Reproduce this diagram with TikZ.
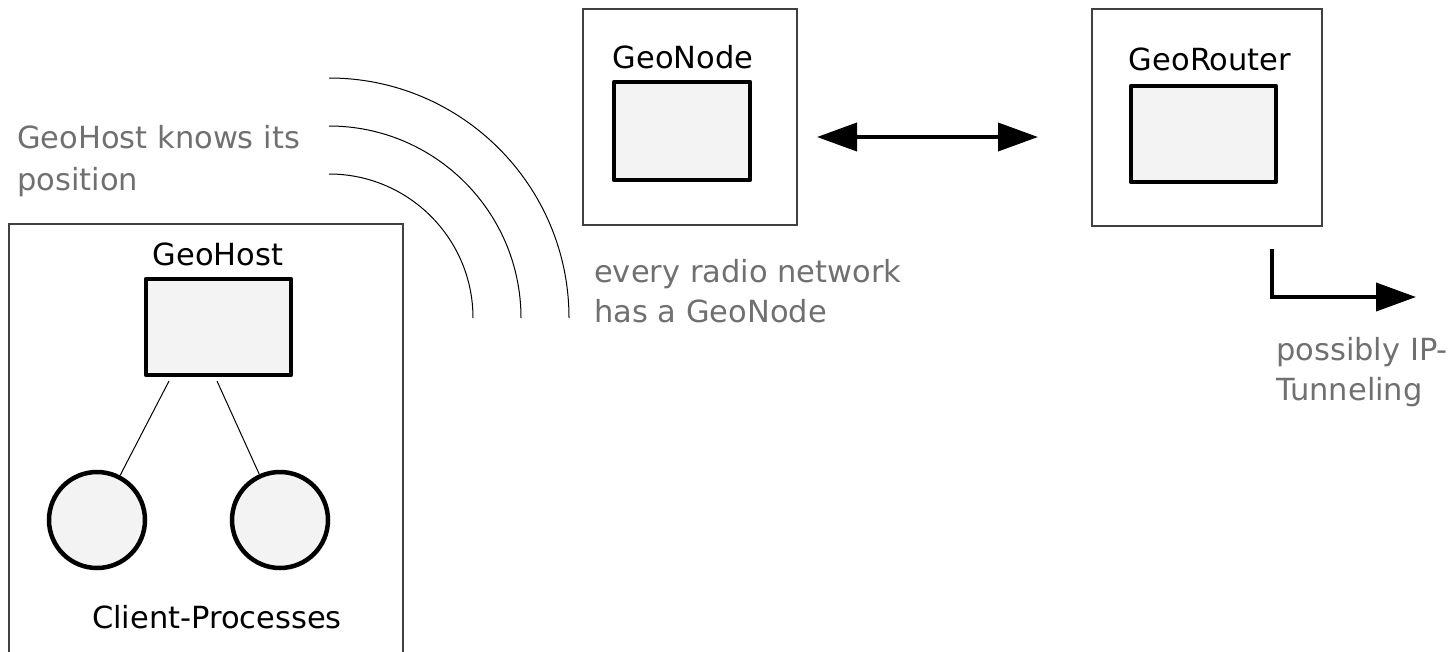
\documentclass[tikz,border=0pt]{standalone}
\usepackage{fontspec}
\setmainfont{DejaVu Sans}
\usetikzlibrary{arrows.meta}
\definecolor{boxfill}{HTML}{F3F3F3}
\definecolor{graytext}{HTML}{707070}
\tikzset{
  outerbox/.style={draw=black!75, line width=1.2pt},
  innerbox/.style={draw=black, line width=4.5pt, fill=boxfill, line join=round},
  proc/.style={circle, draw=black, line width=4.5pt, fill=boxfill, minimum size=96pt, inner sep=0pt},
  thinline/.style={draw=black, line width=1pt},
  lbl/.style={font=\fontsize{30.5}{36}\selectfont, anchor=base, inner sep=0pt},
  note/.style={font=\fontsize{30.5}{36}\selectfont, text=graytext, anchor=base west, inner sep=0pt},
  bigarrow/.style={line width=3.8pt, -{Triangle[length=40pt,width=28pt]}},
}
\begin{document}
\begin{tikzpicture}[x=1pt,y=-1pt]
\useasboundingbox (0,0) rectangle (1456,651);
% GeoHost
\draw[outerbox] (9,700) -- (9,224) -- (403,224) -- (403,700);
\node[lbl] (hostlbl) at (218,265) {GeoHost};
\node[innerbox, minimum width=145pt, minimum height=96pt, inner sep=0pt] (host) at (218.5,327) {};
\node[proc] (c1) at (97,520) {};
\node[proc] (c2) at (280,520) {};
\coordinate (h1) at (169,381);
\coordinate (h2) at (217,381);
\draw[thinline] (h1) -- (c1);
\draw[thinline] (h2) -- (c2);
\node[lbl] (cp) at (217,628) {Client-Processes};
% waves
\draw[thinline] (329,78) arc[start angle=-90, end angle=0, radius=240];
\draw[thinline] (329,126) arc[start angle=-90, end angle=0, radius=192];
\draw[thinline] (329,174) arc[start angle=-90, end angle=0, radius=144];
\node[note] (n1) at (17,148) {GeoHost knows its};
\node[note] (n2) at (17,190) {position};
% GeoNode
\node[outerbox, minimum width=214pt, minimum height=216pt, inner sep=0pt] (gnbox) at (690,117) {};
\node[lbl] (gnlbl) at (683,68) {GeoNode};
\node[innerbox, minimum width=136pt, minimum height=98pt, inner sep=0pt] (gn) at (682,131) {};
\node[note] (n3) at (594,282) {every radio network};
\node[note] (n4) at (594,322) {has a GeoNode};
% GeoRouter
\node[outerbox, minimum width=230pt, minimum height=217pt, inner sep=0pt] (grbox) at (1207,117.5) {};
\node[lbl] (grlbl) at (1210,70) {GeoRouter};
\node[innerbox, minimum width=145pt, minimum height=96pt, inner sep=0pt] (gr) at (1203.5,134) {};
% double arrow
\coordinate (a1) at (817,137);
\coordinate (a2) at (1038,137);
\draw[bigarrow, {Triangle[length=40pt,width=28pt]}-{Triangle[length=40pt,width=28pt]}] (a1) -- (a2);
% tunnel arrow
\coordinate (t1) at (1272,249);
\coordinate (t2) at (1416,297);
\draw[bigarrow] (t1) |- (t2);
\node[note] (n5) at (1276,360) {possibly IP-};
\node[note] (n6) at (1276,400) {Tunneling};
\end{tikzpicture}
\end{document}
